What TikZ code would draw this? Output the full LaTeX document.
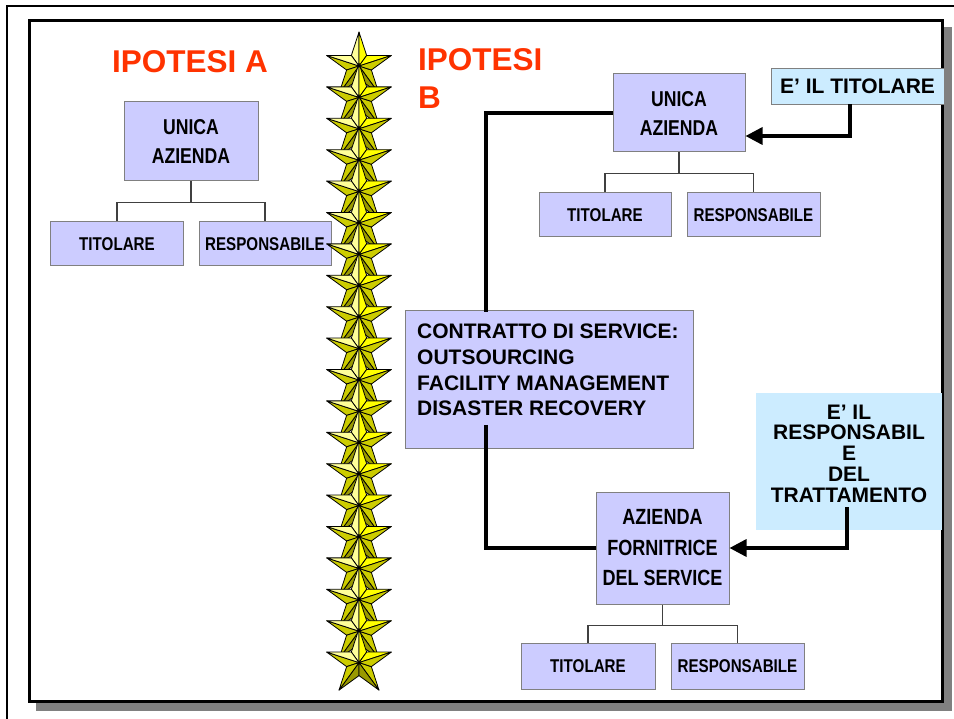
\documentclass[tikz,border=0pt]{standalone}
\usepackage{fontspec}
\setmainfont{Liberation Sans}
\newfontfamily\narrowsans[FakeStretch=0.82]{Liberation Sans}
\usetikzlibrary{arrows.meta, positioning}
\definecolor{boxLilla}{RGB}{204, 204, 255}
\definecolor{boxCeleste}{RGB}{204, 236, 255}
\definecolor{boxBordo}{RGB}{128, 128, 128}
\definecolor{ipotesiRed}{RGB}{255, 51, 0}
\definecolor{starLight}{RGB}{255, 255, 153}
\definecolor{starBright}{RGB}{255, 255, 0}
\definecolor{starOlive}{RGB}{204, 204, 0}
\definecolor{starDark}{RGB}{153, 153, 0}

% stella a facce, centro in #1
\newcommand{\stella}[1]{%
  \begin{scope}[shift={#1}, yscale=-1]
    \foreach \a/\cl/\cr in {90/starLight/starBright, 162/starOlive/starLight,
                            234/starDark/starOlive, 306/starOlive/starDark,
                            18/starBright/starOlive}{
      \filldraw[fill=\cl, draw=black, line width=0.8pt, line join=round]
        (0,0) -- (\a:34) -- (\a+36:13) -- cycle;
      \filldraw[fill=\cr, draw=black, line width=0.8pt, line join=round]
        (0,0) -- (\a:34) -- (\a-36:13) -- cycle;
    }
  \end{scope}}

\begin{document}
\begin{tikzpicture}[x=1pt, y=-1pt,
    titolo/.style={font=\bfseries\fontsize{31.5}{38}\selectfont,
                   text=ipotesiRed, inner sep=0pt},
    lilla/.style={draw=boxBordo, line width=1pt, fill=boxLilla,
                  inner sep=0pt, align=center,
                  font=\narrowsans\bfseries\fontsize{21.5}{29}\selectfont},
    figlio/.style={lilla, minimum height=44pt,
                   font=\narrowsans\bfseries\fontsize{18.5}{22}\selectfont},
    celeste/.style={fill=boxCeleste, inner sep=0pt, align=center,
                    font=\bfseries\fontsize{21}{25}\selectfont},
    testo/.style={inner sep=0pt, font=\bfseries\fontsize{21}{25.7}\selectfont},
    ramo/.style={draw=black!75, line width=1.3pt},
    linea/.style={line width=3.4pt},
    freccia/.style={linea, -{Triangle[length=17pt, width=17pt]}}]

  \useasboundingbox (0,0) rectangle (954,719);

  % ── Cornice ──
  \draw[line width=2pt] (6.5,719) -- (6.5,6.5) -- (954,6.5);
  \fill[boxBordo] (36,27) rectangle (952,711);
  \draw[line width=3pt, fill=white] (29,21) rectangle (942,701);

  % ── Ipotesi A ──
  \node[titolo, anchor=base west] (ipA) at (112,73) {IPOTESI A};
  \node[lilla, minimum width=134pt, minimum height=79pt] (unicaA) at (191,141.5)
    {UNICA\\AZIENDA};
  \node[figlio, minimum width=133pt] (titA) at (117,244) {TITOLARE};
  \node[figlio, minimum width=132pt] (respA) at (265,244) {RESPONSABILE};
  \draw[ramo] (unicaA.south) -- ++(0,21) -| (titA.north);
  \draw[ramo] (unicaA.south) ++(0,21) -| (respA.north);

  % ── Colonna di stelle ──
  \foreach \i in {0,...,19} {
    \pgfmathsetmacro{\ys}{66 + 31.4*\i}
    \stella{(359,\ys)}
  }

  % ── Ipotesi B ──
  \node[titolo, anchor=north west, align=left] (ipB) at (418,48) {IPOTESI\\B};
  \node[lilla, minimum width=132pt, minimum height=78pt] (unicaB) at (679,113)
    {UNICA\\AZIENDA};
  \node[figlio, minimum width=132pt] (titB) at (605,215) {TITOLARE};
  \node[figlio, minimum width=133pt] (respB) at (753.5,215) {RESPONSABILE};
  \draw[ramo] (unicaB.south) -- ++(0,21) -| (titB.north);
  \draw[ramo] (unicaB.south) ++(0,21) -| (respB.north);

  \node[lilla, minimum width=288pt, minimum height=138pt] (contratto) at (549,380) {};
  \node[testo, anchor=north west, align=left] (contrattoTxt) at (417,324)
    {CONTRATTO DI SERVICE:\\OUTSOURCING\\FACILITY MANAGEMENT\\DISASTER RECOVERY};

  \node[lilla, minimum width=133pt, minimum height=112pt,
        font=\narrowsans\bfseries\fontsize{22}{30.5}\selectfont]
    (forn) at (662.5,548) {AZIENDA\\FORNITRICE\\DEL SERVICE};
  \node[figlio, minimum width=134pt, minimum height=46pt] (titC) at (588,666) {TITOLARE};
  \node[figlio, minimum width=133pt, minimum height=46pt] (respC) at (737.5,666) {RESPONSABILE};
  \draw[ramo] (forn.south) -- ++(0,21) -| (titC.north);
  \draw[ramo] (forn.south) ++(0,21) -| (respC.north);

  \node[celeste, draw=boxBordo, line width=0.8pt, minimum width=173pt,
        minimum height=36pt] (eTit) at (857.5,86) {E' IL TITOLARE};
  \node[celeste, minimum width=186pt, minimum height=137pt] (eResp) at (849,461.5) {};
  \node[testo, align=center, font=\bfseries\fontsize{21}{20.8}\selectfont]
    (eRespTxt) at (849,453.5) {E' IL\\RESPONSABIL\\E\\DEL\\TRATTAMENTO};

  % ── Collegamenti ──
  \coordinate (cTop) at (486,312);
  \coordinate (cIn) at (486,425);
  \coordinate (aT) at (850,136);
  \coordinate (aR) at (847,507);
  \draw[linea] (unicaB.west) -| (cTop);
  \draw[linea] (cIn) |- (forn.west);
  \draw[freccia] (eTit.south -| aT) -- (aT) -- (aT -| unicaB.east);
  \draw[freccia] (aR) |- (forn.east);

\end{tikzpicture}
\end{document}
